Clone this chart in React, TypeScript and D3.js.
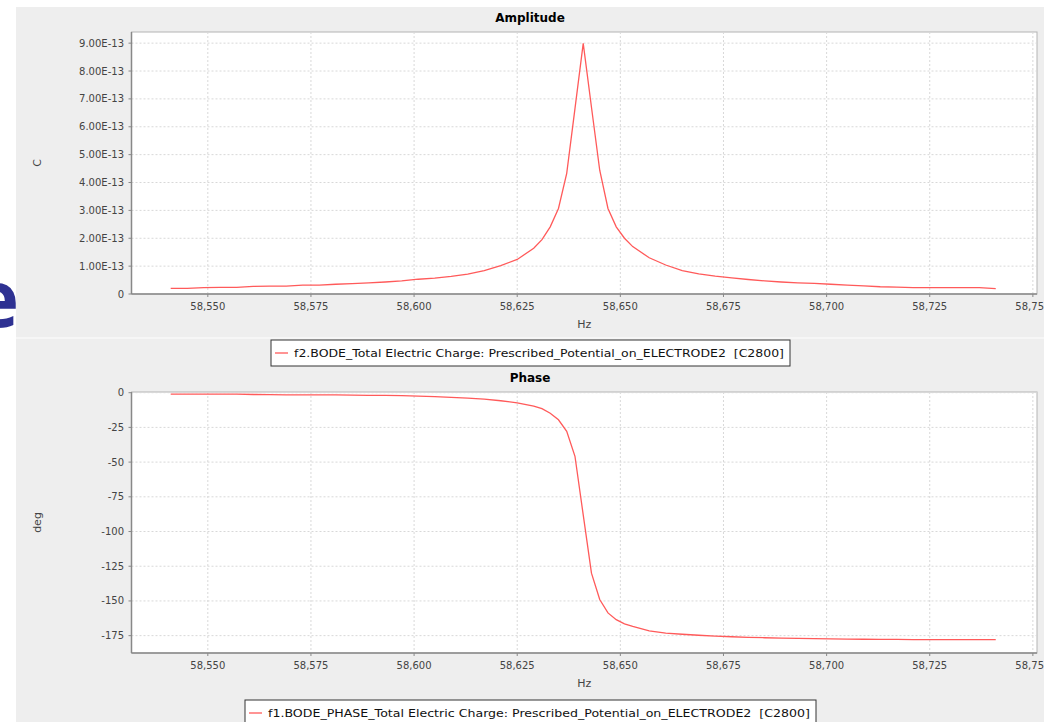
import * as d3 from 'd3';

// frequency sweep (Hz), shared by both series
const freqs = [
  58541, 58545, 58549, 58553, 58557, 58561, 58565, 58569, 58573, 58577,
  58581, 58585, 58589, 58593, 58597, 58601, 58605, 58609, 58613, 58617,
  58621, 58625, 58629, 58631, 58633, 58635, 58637, 58639, 58641, 58643,
  58645, 58647, 58649, 58651, 58653, 58657, 58661, 58665, 58669, 58673,
  58677, 58681, 58685, 58689, 58693, 58697, 58701, 58705, 58709, 58713,
  58717, 58721, 58725, 58729, 58733, 58737, 58741,
];

// total electric charge amplitude (C)
const amplitude = [
  0.20e-13, 0.20e-13, 0.23e-13, 0.24e-13, 0.24e-13, 0.27e-13, 0.28e-13, 0.28e-13, 0.32e-13, 0.32e-13,
  0.35e-13, 0.37e-13, 0.40e-13, 0.43e-13, 0.47e-13, 0.53e-13, 0.57e-13, 0.63e-13, 0.71e-13, 0.84e-13,
  1.02e-13, 1.24e-13, 1.64e-13, 1.95e-13, 2.41e-13, 3.07e-13, 4.33e-13, 6.65e-13, 8.99e-13, 6.70e-13,
  4.44e-13, 3.07e-13, 2.41e-13, 2.00e-13, 1.70e-13, 1.30e-13, 1.04e-13, 0.84e-13, 0.72e-13, 0.64e-13,
  0.58e-13, 0.52e-13, 0.47e-13, 0.43e-13, 0.40e-13, 0.38e-13, 0.35e-13, 0.32e-13, 0.29e-13, 0.26e-13,
  0.25e-13, 0.23e-13, 0.23e-13, 0.23e-13, 0.23e-13, 0.23e-13, 0.19e-13,
];

// phase (deg)
const phase = [
  -1.0, -1.0, -1.0, -1.0, -1.1, -1.3, -1.4, -1.5, -1.5, -1.5,
  -1.6, -1.7, -2.0, -2.0, -2.1, -2.4, -2.8, -3.3, -3.9, -4.6,
  -5.8, -7.3, -9.6, -11.5, -14.8, -19.5, -27.8, -45.8, -88.0, -130.0,
  -149.0, -158.6, -163.5, -166.5, -168.3, -171.5, -173.2, -174.0, -174.7, -175.3,
  -175.8, -176.2, -176.5, -176.8, -177.0, -177.2, -177.3, -177.5, -177.6, -177.7,
  -177.7, -177.8, -177.8, -177.8, -177.9, -177.9, -177.9,
];

const xTicks = [58550, 58575, 58600, 58625, 58650, 58675, 58700, 58725, 58750];
const ampTicks = [0, 1e-13, 2e-13, 3e-13, 4e-13, 5e-13, 6e-13, 7e-13, 8e-13, 9e-13];
const phaseTicks = [0, -25, -50, -75, -100, -125, -150, -175];

const ampLegend = 'f2.BODE_Total Electric Charge: Prescribed_Potential_on_ELECTRODE2  [C2800]';
const phaseLegend = 'f1.BODE_PHASE_Total Electric Charge: Prescribed_Potential_on_ELECTRODE2  [C2800]';

const FONT = '"DejaVu Sans", Verdana, sans-serif';
const RED = '#ff5a5a';
const TICK_TXT = '#444444';

const plotLeft = 131.5;
const plotRight = 1037;

const x = d3.scaleLinear().domain([58531.5, 58751]).range([plotLeft, plotRight]);

type PanelProps = {
  title: string;
  titleY: number;
  top: number;
  bottom: number;
  yDomain: [number, number];
  yTicks: number[];
  yFmt: (v: number) => string;
  values: number[];
  yLabel: string;
  legend: string;
  legendBox: [number, number, number, number];
  legendTextW: number;
};

const Panel = ({ title, titleY, top, bottom, yDomain, yTicks, yFmt, values, yLabel, legend, legendBox, legendTextW }: PanelProps) => {
  const y = d3.scaleLinear().domain(yDomain).range([bottom, top]);
  const line = d3
    .line<number>()
    .x((_, i) => x(freqs[i]))
    .y(d => y(d));
  const [lx, ly, lw, lh] = legendBox;
  const midY = (top + bottom) / 2;
  return (
    <g>
      <text x={530} y={titleY} textAnchor="middle" fontFamily={FONT} fontWeight="bold" fontSize={12} fill="#000">
        {title}
      </text>
      <rect x={plotLeft} y={top} width={plotRight - plotLeft} height={bottom - top} fill="#fff" stroke="#b4b4b4" strokeWidth={1} />
      {/* grid */}
      {xTicks.map(t => (
        <line key={'gx' + t} x1={x(t)} x2={x(t)} y1={top} y2={bottom} stroke="#d8d8d8" strokeWidth={1} strokeDasharray="2,2" />
      ))}
      {yTicks.map(t => (
        <line key={'gy' + t} x1={plotLeft} x2={plotRight} y1={y(t)} y2={y(t)} stroke="#d8d8d8" strokeWidth={1} strokeDasharray="2,2" />
      ))}
      {/* axes */}
      <line x1={plotLeft} x2={plotLeft} y1={top} y2={bottom} stroke="#888" strokeWidth={1.5} />
      <line x1={plotLeft} x2={plotRight} y1={bottom} y2={bottom} stroke="#888" strokeWidth={1.5} />
      {yTicks.map(t => (
        <g key={'ty' + t}>
          <line x1={plotLeft - 3} x2={plotLeft} y1={y(t)} y2={y(t)} stroke="#888" />
          <text x={124} y={y(t) + 3.5} textAnchor="end" fontFamily={FONT} fontSize={10} fill={TICK_TXT}>
            {yFmt(t)}
          </text>
        </g>
      ))}
      {xTicks.map(t => (
        <g key={'tx' + t}>
          <line x1={x(t)} x2={x(t)} y1={bottom} y2={bottom + 3} stroke="#888" />
          <text x={x(t)} y={bottom + 16} textAnchor="middle" fontFamily={FONT} fontSize={10} fill={TICK_TXT}>
            {d3.format(',')(t)}
          </text>
        </g>
      ))}
      <text x={(plotLeft + plotRight) / 2} y={bottom + 34} textAnchor="middle" fontFamily={FONT} fontSize={11} fill={TICK_TXT}>
        Hz
      </text>
      <text
        transform={`translate(41,${midY}) rotate(-90)`}
        textAnchor="middle"
        fontFamily={FONT}
        fontSize={11}
        fill={TICK_TXT}
      >
        {yLabel}
      </text>
      {/* series */}
      <path d={line(values) || ''} fill="none" stroke={RED} strokeWidth={1.3} />
      {/* legend */}
      <rect x={lx} y={ly} width={lw} height={lh} fill="#fff" stroke="#333" strokeWidth={1} />
      <line x1={lx + 4} x2={lx + 17} y1={ly + lh / 2} y2={ly + lh / 2} stroke={RED} strokeWidth={1.3} />
      <text
        x={lx + 23}
        y={ly + lh / 2 + 4}
        fontFamily={FONT}
        fontSize={11}
        fill="#111"
        textLength={legendTextW}
        lengthAdjust="spacingAndGlyphs"
        style={{ whiteSpace: 'pre' }}
      >
        {legend}
      </text>
    </g>
  );
};

export default function App() {
  const ampFmt = (v: number) => (v === 0 ? '0' : (v / 1e-13).toFixed(2) + 'E-13');
  const phaseFmt = (v: number) => String(v);
  return (
    <svg width={1052} height={722} style={{ position: 'absolute', left: 0, top: 0, background: '#fff' }}>
      <defs>
        <clipPath id="panelClip">
          <rect x={16} y={7} width={1028} height={715} />
        </clipPath>
      </defs>
      {/* fragment of a slide title peeking out from behind the chart */}
      <text x={19} y={327} textAnchor="end" fontFamily='"Open Sans", sans-serif' fontWeight="bold" fontSize={78} fill="#2e3192">
        e
      </text>
      <g clipPath="url(#panelClip)">
        <rect x={16} y={7} width={1028} height={715} fill="#eeeeee" />
        <line x1={16} x2={1044} y1={338} y2={338} stroke="#f9f9f9" strokeWidth={1.5} />
        <Panel
          title="Amplitude"
          titleY={22}
          top={32}
          bottom={294}
          yDomain={[0, 9.4e-13]}
          yTicks={ampTicks}
          yFmt={ampFmt}
          values={amplitude}
          yLabel="C"
          legend={ampLegend}
          legendBox={[271, 340, 519, 26]}
          legendTextW={490}
        />
        <Panel
          title="Phase"
          titleY={382}
          top={392}
          bottom={653}
          yDomain={[-187.5, 0.5]}
          yTicks={phaseTicks}
          yFmt={phaseFmt}
          values={phase}
          yLabel="deg"
          legend={phaseLegend}
          legendBox={[245, 700, 571, 26]}
          legendTextW={542}
        />
      </g>
    </svg>
  );
}
